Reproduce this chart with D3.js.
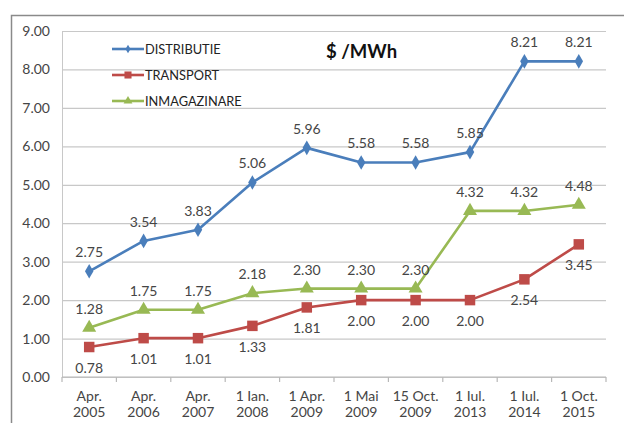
<!DOCTYPE html>
<html>
<head>
<meta charset="utf-8">
<script src="https://cdn.jsdelivr.net/npm/d3@7"></script>
<style>
  html, body { margin: 0; padding: 0; background: #fff; }
  svg { display: block; font-family: Lato, "Open Sans", sans-serif; }
</style>
</head>
<body>
<svg id="chart" width="624" height="423"></svg>
<script>
// Tariff history, $/MWh
const categories = [
  ["Apr.", "2005"], ["Apr.", "2006"], ["Apr.", "2007"], ["1 Ian.", "2008"],
  ["1 Apr.", "2009"], ["1 Mai", "2009"], ["15 Oct.", "2009"], ["1 Iul.", "2013"],
  ["1 Iul.", "2014"], ["1 Oct.", "2015"]
];
const distributie  = [2.75, 3.54, 3.83, 5.06, 5.96, 5.58, 5.58, 5.85, 8.21, 8.21];
const transport    = [0.78, 1.01, 1.01, 1.33, 1.81, 2.00, 2.00, 2.00, 2.54, 3.45];
const inmagazinare = [1.28, 1.75, 1.75, 2.18, 2.30, 2.30, 2.30, 4.32, 4.32, 4.48];
const yTicks = [0, 1, 2, 3, 4, 5, 6, 7, 8, 9];
const unitTitle = "$ /MWh";

const series = [
  { name: "DISTRIBUTIE", values: distributie, color: "#4A7EBB", symbol: d3.symbolDiamond, size: 62, legendSize: 22, labelPos: "above" },
  { name: "TRANSPORT", values: transport, color: "#BE4B48", symbol: d3.symbolSquare, size: 110, legendSize: 50, labelPos: "below" },
  { name: "INMAGAZINARE", values: inmagazinare, color: "#98B954", symbol: d3.symbolTriangle, size: 85, legendSize: 34, labelPos: "above" }
];

const svg = d3.select("#chart");
const plotLeft = 62, plotRight = 606, plotTop = 31, plotBottom = 377;
const textColor = "#454545";

// outer frame
svg.append("path")
  .attr("d", `M11.5,430 L11.5,15.5 L630,15.5`)
  .attr("fill", "none").attr("stroke", "#8a8a8a").attr("stroke-width", 1.5);

const x = d3.scaleBand().domain(d3.range(categories.length)).range([plotLeft, plotRight]).padding(0);
const y = d3.scaleLinear().domain([0, 9]).range([plotBottom, plotTop]);
const cx = i => x(i) + x.bandwidth() / 2;

// gridlines + y labels
const yAxis = d3.axisLeft(y).tickValues(yTicks).tickFormat(d3.format(".2f"))
  .tickSize(-(plotRight - plotLeft)).tickPadding(12);
const gy = svg.append("g").attr("transform", `translate(${plotLeft},0)`).call(yAxis);
gy.select(".domain").attr("stroke", "#c8c8c8").attr("stroke-width", 1);
gy.selectAll(".tick line").attr("stroke", "#c8c8c8").attr("stroke-width", 1.2);
gy.selectAll(".tick text").attr("fill", textColor).attr("font-size", 14)
  .attr("font-family", "Lato, sans-serif");

// x axis with category tick marks at band boundaries
const gx = svg.append("g").attr("transform", `translate(0,${plotBottom})`);
gx.append("line").attr("x1", plotLeft).attr("x2", plotRight).attr("stroke", "#b8b8b8").attr("stroke-width", 1.2);
gx.selectAll("line.tk").data(d3.range(categories.length + 1)).join("line")
  .attr("class", "tk")
  .attr("x1", i => plotLeft + i * x.bandwidth()).attr("x2", i => plotLeft + i * x.bandwidth())
  .attr("y1", 0).attr("y2", 5).attr("stroke", "#b8b8b8").attr("stroke-width", 1.2);
const xl = gx.selectAll("text.cat").data(categories).join("text")
  .attr("class", "cat")
  .attr("text-anchor", "middle").attr("fill", textColor).attr("font-size", 14)
  .attr("transform", (d, i) => `translate(${cx(i)},0)`);
xl.append("tspan").attr("x", 0).attr("y", 24).text(d => d[0]);
xl.append("tspan").attr("x", 0).attr("y", 40).text(d => d[1]);

// series lines, markers and value labels
const line = d3.line().x((d, i) => cx(i)).y(d => y(d));
series.forEach(s => {
  svg.append("path").datum(s.values).attr("d", line)
    .attr("fill", "none").attr("stroke", s.color).attr("stroke-width", 2.6)
    .attr("stroke-linejoin", "round");
  svg.append("g").selectAll("path").data(s.values).join("path")
    .attr("d", d3.symbol().type(s.symbol).size(s.size))
    .attr("transform", (d, i) => `translate(${cx(i)},${y(d)})`)
    .attr("fill", s.color);
  svg.append("g").selectAll("text").data(s.values).join("text")
    .attr("x", (d, i) => cx(i))
    .attr("y", d => s.labelPos === "above" ? y(d) - 14 : y(d) + 26)
    .attr("text-anchor", "middle").attr("fill", textColor).attr("font-size", 14)
    .text(d => d.toFixed(2));
});

// legend
const lg = svg.append("g");
series.forEach((s, i) => {
  const ly = 49 + i * 26;
  lg.append("line").attr("x1", 112).attr("x2", 144).attr("y1", ly).attr("y2", ly)
    .attr("stroke", s.color).attr("stroke-width", 2.6);
  lg.append("path").attr("d", d3.symbol().type(s.symbol).size(s.legendSize))
    .attr("transform", `translate(128,${ly})`).attr("fill", s.color);
  lg.append("text").attr("x", 145).attr("y", ly + 4.5).attr("font-size", 12.8)
    .attr("fill", "#222").text(s.name);
});

// unit title
svg.append("text").attr("x", 326).attr("y", 58).attr("font-size", 18.5)
  .attr("font-weight", "bold").attr("fill", "#111").text(unitTitle);
</script>
</body>
</html>
